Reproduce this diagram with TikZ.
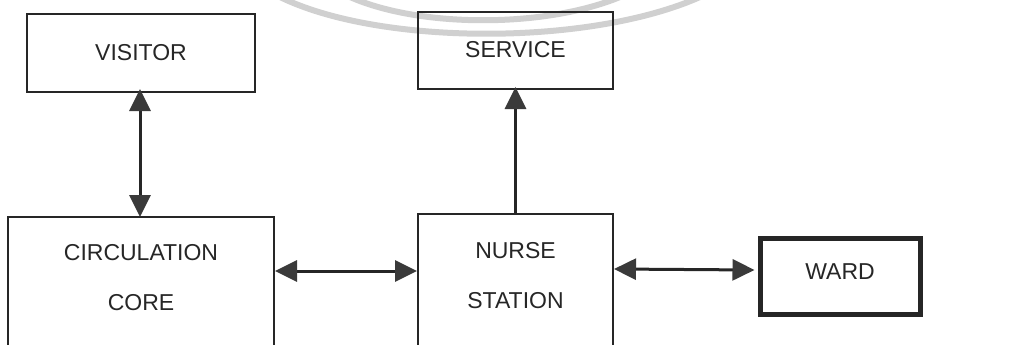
\documentclass[tikz,border=0pt]{standalone}
\usepackage{fontspec}
\setmainfont{Liberation Sans}
\usetikzlibrary{arrows.meta}
\definecolor{ink}{HTML}{262626}
\definecolor{tip}{HTML}{3A3A3A}
\definecolor{wm}{HTML}{D0D0D0}
\tikzset{tri/.tip={Triangle[length=22pt,width=21pt,color=tip,fill=tip]}}
\begin{document}
\begin{tikzpicture}[x=1pt,y=-1pt,
  box/.style={draw=ink,line width=2pt,inner sep=0pt,fill=none},
  lbl/.style={font=\fontsize{23}{23}\selectfont,text=ink,inner sep=0pt},
  link/.style={draw=ink,line width=3pt},
  oneway/.style={link,-{tri}},
  twoway/.style={link,{tri}-{tri}}]
\useasboundingbox (0,0) rectangle (1017,345);
\clip (0,0) rectangle (1017,345);
% watermark arcs
\draw[wm,line width=6pt] (280,-3) .. controls (380,46) and (590,46) .. (700,-3);
\draw[wm,line width=6pt] (350,-3) .. controls (420,28) and (545,28) .. (620,-3);
% boxes
\node[box,minimum width=228,minimum height=78] (visitor) at (141,53) {};
\node[box,minimum width=195,minimum height=77] (service) at (515.5,50.5) {};
\node[box,minimum width=266,minimum height=150] (circ) at (141,292) {};
\node[box,minimum width=195,minimum height=150] (nurse) at (515.5,289) {};
\node[box,line width=5pt,minimum width=160,minimum height=76] (ward) at (840,276) {};
% labels
\node[lbl] (tvisitor) at (141,52.5) {VISITOR};
\node[lbl] (tservice) at (515.5,50) {SERVICE};
\node[lbl] (tcirc1) at (141,253) {CIRCULATION};
\node[lbl] (tcirc2) at (141,303) {CORE};
\node[lbl] (tnurse1) at (515.5,251) {NURSE};
\node[lbl] (tnurse2) at (515.5,301) {STATION};
\node[lbl] (tward) at (840,272) {WARD};
% connectors
\draw[twoway] ([xshift=-1pt,yshift=4pt]visitor.south) -- ([xshift=-1pt,yshift=-1pt]circ.north);
\draw[oneway] (nurse.north) -- ([yshift=3pt]service.south);
\draw[twoway] ([yshift=-55pt]circ.north east) -- ([yshift=-58pt]nurse.north west);
\draw[twoway] ([yshift=-56pt]nurse.north east) -- ([xshift=-3pt,yshift=6pt]ward.west);
\end{tikzpicture}
\end{document}
